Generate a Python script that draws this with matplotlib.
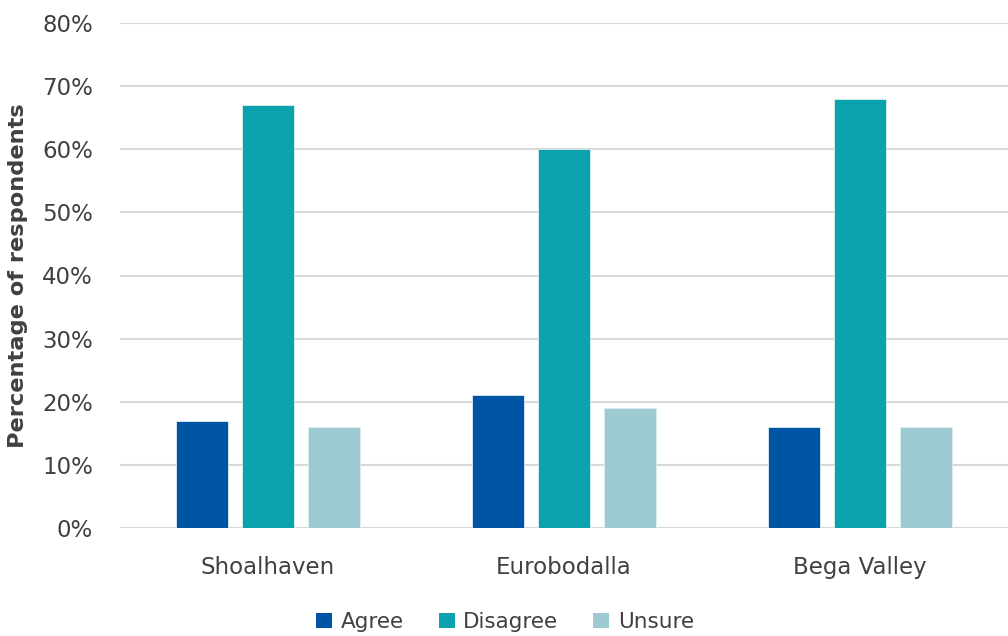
import numpy as np
import matplotlib.pyplot as plt
from matplotlib.ticker import PercentFormatter
from matplotlib.patches import Patch

# Data
regions = ["Shoalhaven", "Eurobodalla", "Bega Valley"]
agree = [17, 21, 16]
disagree = [67, 60, 68]
unsure = [16, 19, 16]
series_names = ["Agree", "Disagree", "Unsure"]
colors = ["#0054A4", "#0AA3AD", "#9CCAD0"]
yticks = [0, 10, 20, 30, 40, 50, 60, 70, 80]

plt.rcParams['font.family'] = ['DejaVu Sans']
text_color = "#404040"

fig = plt.figure(figsize=(10.08, 6.36), dpi=100)
ax = fig.add_axes([120 / 1008, 1 - 528 / 636, 888 / 1008, 505 / 636])

x = np.arange(len(regions))
width = 0.176
step = 0.223
for i, (vals, name, col) in enumerate(zip([agree, disagree, unsure],
                                          series_names, colors)):
    ax.bar(x + (i - 1) * step, vals, width, color=col, label=name,
           edgecolor="#dceef2", linewidth=0.6, zorder=3)

ax.set_xlim(-0.5, 2.5)
ax.set_ylim(0, 80)
ax.set_yticks(yticks)
ax.yaxis.set_major_formatter(PercentFormatter(decimals=0))
ax.grid(axis="y", color="#d9d9d9", linewidth=1.5, zorder=0)
ax.set_xticks(x)
ax.set_xticklabels(regions)
ax.tick_params(axis="both", length=0, labelsize=16.5, colors=text_color)
ax.tick_params(axis="x", pad=20)
ax.tick_params(axis="y", pad=19.5)
for s in ax.spines.values():
    s.set_visible(False)

ax.set_ylabel("Percentage of respondents", fontsize=16.2, fontweight="bold",
              color=text_color)
ax.yaxis.set_label_coords(-0.104, 0.5)

handles = [Patch(facecolor=c, label=n) for c, n in zip(colors, series_names)]
fig.legend(handles=handles, loc="center", bbox_to_anchor=(505 / 1008, 1 - 622 / 636),
           ncol=3, frameon=False, fontsize=15.5, labelcolor=text_color,
           handlelength=0.75, handleheight=0.75, handletextpad=0.4,
           columnspacing=1.6)

fig.savefig("out.png", dpi=100)
